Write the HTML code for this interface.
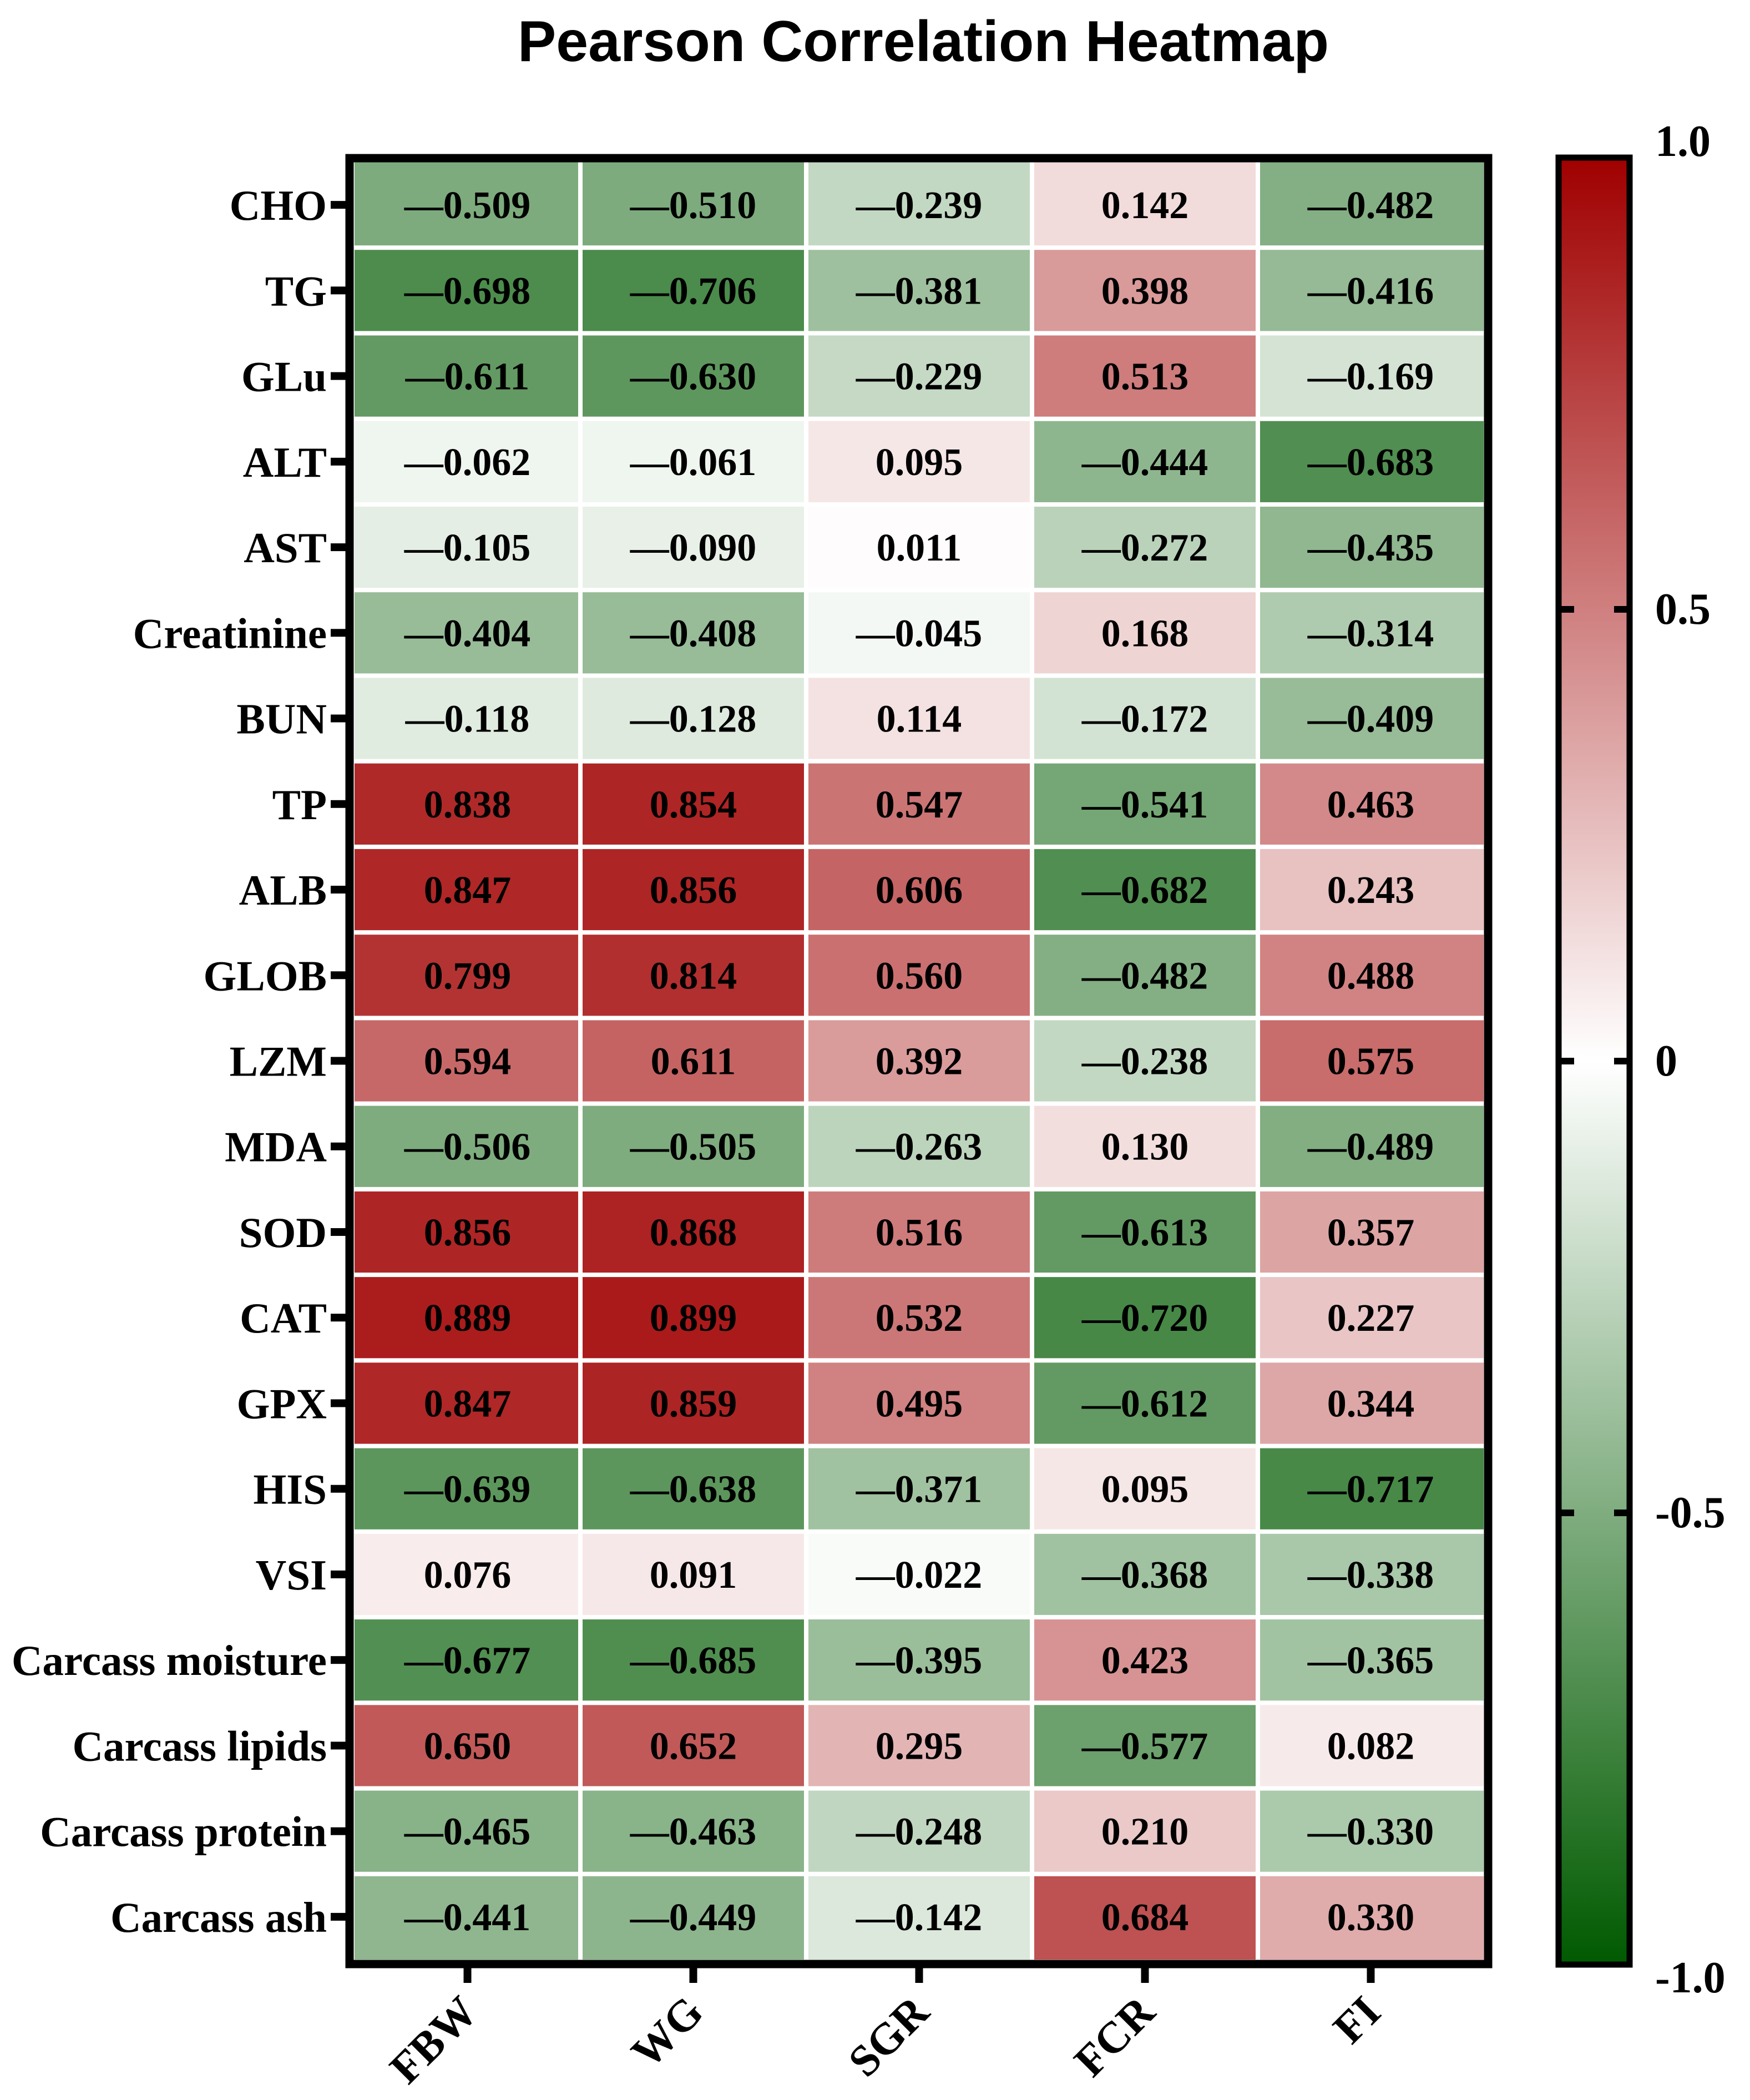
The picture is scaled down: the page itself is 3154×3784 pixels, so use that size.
<!DOCTYPE html>
<html><head><meta charset="utf-8"><style>
html,body{margin:0;padding:0;background:#fff;}
svg{display:block;}
</style></head><body>
<svg id="chart" width="3154" height="3784" viewBox="0 0 3154 3784" xmlns="http://www.w3.org/2000/svg">
<defs>
<linearGradient id="cbGrad" x1="0" y1="0" x2="0" y2="1">
<stop offset="0" stop-color="rgb(160,0,0)"/>
<stop offset="0.5" stop-color="rgb(255,255,255)"/>
<stop offset="1" stop-color="rgb(0,90,0)"/>
</linearGradient>
</defs>
<text x="1664" y="110" text-anchor="middle" font-family="Liberation Sans, sans-serif" font-weight="bold" font-size="104">Pearson Correlation Heatmap</text>
<g id="cells"></g>
<g id="rowlabels"></g>
<g id="collabels"></g>
<rect x="630" y="285" width="2052" height="3254" fill="none" stroke="#000" stroke-width="15"/>
<g id="colorbar"></g>
</svg>
<script>
const rowLabels = ["CHO","TG","GLu","ALT","AST","Creatinine","BUN","TP","ALB","GLOB","LZM","MDA","SOD","CAT","GPX","HIS","VSI","Carcass moisture","Carcass lipids","Carcass protein","Carcass ash"];
const colLabels = ["FBW","WG","SGR","FCR","FI"];
const colFBW = [-0.509,-0.698,-0.611,-0.062,-0.105,-0.404,-0.118,0.838,0.847,0.799,0.594,-0.506,0.856,0.889,0.847,-0.639,0.076,-0.677,0.650,-0.465,-0.441];
const colWG  = [-0.510,-0.706,-0.630,-0.061,-0.090,-0.408,-0.128,0.854,0.856,0.814,0.611,-0.505,0.868,0.899,0.859,-0.638,0.091,-0.685,0.652,-0.463,-0.449];
const colSGR = [-0.239,-0.381,-0.229,0.095,0.011,-0.045,0.114,0.547,0.606,0.560,0.392,-0.263,0.516,0.532,0.495,-0.371,-0.022,-0.395,0.295,-0.248,-0.142];
const colFCR = [0.142,0.398,0.513,-0.444,-0.272,0.168,-0.172,-0.541,-0.682,-0.482,-0.238,0.130,-0.613,-0.720,-0.612,0.095,-0.368,0.423,-0.577,0.210,0.684];
const colFI  = [-0.482,-0.416,-0.169,-0.683,-0.435,-0.314,-0.409,0.463,0.243,0.488,0.575,-0.489,0.357,0.227,0.344,-0.717,-0.338,-0.365,0.082,-0.330,0.330];
const cbTicks = [1.0,0.5,0,-0.5,-1.0];
const cbTickLabels = ["1.0","0.5","0","-0.5","-1.0"];

const NS="http://www.w3.org/2000/svg";
const X0=639, X1=2674, Y0=292, Y1=3531, GAP=8;
const colW=(X1-X0)/colLabels.length, rowH=(Y1-Y0)/rowLabels.length;
function xPos(j){return X0+j*colW;}
function yPos(i){return Y0+i*rowH;}
function color(v){
  let r,g,b;
  if(v>=0){r=255-v*95;g=255-v*255;b=255-v*255;}
  else{const t=-v;r=255-t*255;g=255-t*165;b=255-t*255;}
  return `rgb(${Math.round(r)},${Math.round(g)},${Math.round(b)})`;
}
function fmt(v){const s=Math.abs(v).toFixed(3);return v<0?"\u2014"+s:s;}
function mk(tag,attrs,parent){const e=document.createElementNS(NS,tag);for(const k in attrs)e.setAttribute(k,attrs[k]);parent.appendChild(e);return e;}
const cols=[colFBW,colWG,colSGR,colFCR,colFI];
const gCells=document.getElementById('cells');
cols.forEach((col,j)=>{
  col.forEach((v,i)=>{
    const r=mk('rect',{x:xPos(j)+(j>0?GAP/2:0),y:yPos(i)+(i>0?GAP/2:0),width:colW-(j>0?GAP/2:0)-(j<4?GAP/2:0),height:rowH-(i>0?GAP/2:0)-(i<20?GAP/2:0),fill:color(v)},gCells);
    
    
    const t=mk('text',{x:xPos(j)+colW/2,y:yPos(i)+rowH/2+24,'text-anchor':'middle','font-family':'Liberation Serif, serif','font-weight':'bold','font-size':'70'},gCells);
    t.textContent=fmt(v);
    
    
  });
});
const gRow=document.getElementById('rowlabels');
rowLabels.forEach((lab,i)=>{
  const cy=yPos(i)+rowH/2;
  const tk=mk('rect',{x:596,y:cy-7,width:32,height:14,fill:'#000'},gRow);
  
  
  const t=mk('text',{x:589,y:cy+27,'text-anchor':'end','font-family':'Liberation Serif, serif','font-weight':'bold','font-size':'77'},gRow);
  t.textContent=lab;
  
  
});
const gCol=document.getElementById('collabels');
colLabels.forEach((lab,j)=>{
  const cx=xPos(j)+colW/2;
  const tk=mk('rect',{x:cx-7,y:3546,width:14,height:27,fill:'#000'},gCol);
  
  
  const t=mk('text',{x:cx+22,y:3630,'text-anchor':'end','font-family':'Liberation Serif, serif','font-weight':'bold','font-size':'80',transform:`rotate(-45 ${cx+22} 3630)`},gCol);
  t.textContent=lab;
  
  
});
const gCb=document.getElementById('colorbar');
const CBX=2809, CBW=128, CBT=284, CBB=3540;
function cbY(v){return CBT+(1-v)/2*(CBB-CBT);}
const cbRect=mk('rect',{x:CBX,y:CBT,width:CBW,height:CBB-CBT,fill:'url(#cbGrad)',stroke:'#000','stroke-width':'11'},gCb);


cbTicks.forEach((v,k)=>{
  const y=cbY(v);
  if(v<1&&v>-1){
    const a=mk('rect',{x:CBX,y:y-6,width:28,height:12,fill:'#000'},gCb);
    
    
    const b=mk('rect',{x:CBX+CBW-28,y:y-6,width:28,height:12,fill:'#000'},gCb);
    
    
  }
  const t=mk('text',{x:2983,y:y+(v===1?-3:v===-1?50:26),'font-family':'Liberation Serif, serif','font-weight':'bold','font-size':'80'},gCb);
  t.textContent=cbTickLabels[k];
  
  
});
</script>
</body></html>
